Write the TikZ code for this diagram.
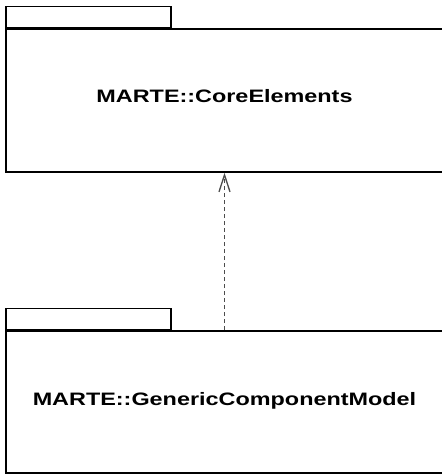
\documentclass[tikz,border=0pt]{standalone}
\usepackage{fontspec}
\setmainfont{Liberation Sans}
\usepackage{tikz}
\usetikzlibrary{arrows.meta,positioning}

\tikzset{
  pkgbody/.style={draw, line width=1.5pt, minimum width=437pt, inner sep=0pt},
  pkgtab/.style={draw, line width=1.5pt, minimum width=165pt, minimum height=21pt, inner sep=0pt},
  pkglabel/.style={font=\fontsize{18}{21}\selectfont\bfseries, inner sep=0pt},
  depends/.style={draw=black!70, line width=1.5pt, dash pattern=on 4pt off 3pt,
    -{Straight Barb[length=17pt,width=11pt,line width=1.3pt]}}
}

\begin{document}
\begin{tikzpicture}[x=1pt,y=1pt]
\useasboundingbox (0,0) rectangle (442,475);
\clip (0,0) rectangle (442,475);

\node[pkgbody, minimum height=143pt] (core) at (224.5,374.5) {};
\node[pkgtab, anchor=south west] (coretab) at (core.north west) {};
\node[pkglabel] (corelabel) at ([yshift=4.5pt]core.center) {\scalebox{1.3}[1]{MARTE::CoreElements}};

\node[pkgbody, minimum height=142pt] (gcm) at (224.5,73) {};
\node[pkgtab, anchor=south west] (gcmtab) at (gcm.north west) {};
\node[pkglabel] (gcmlabel) at ([yshift=1pt]gcm.center) {\scalebox{1.3}[1]{MARTE::GenericComponentModel}};

\draw[depends] (gcm.north) -- (core.south);
\end{tikzpicture}
\end{document}
